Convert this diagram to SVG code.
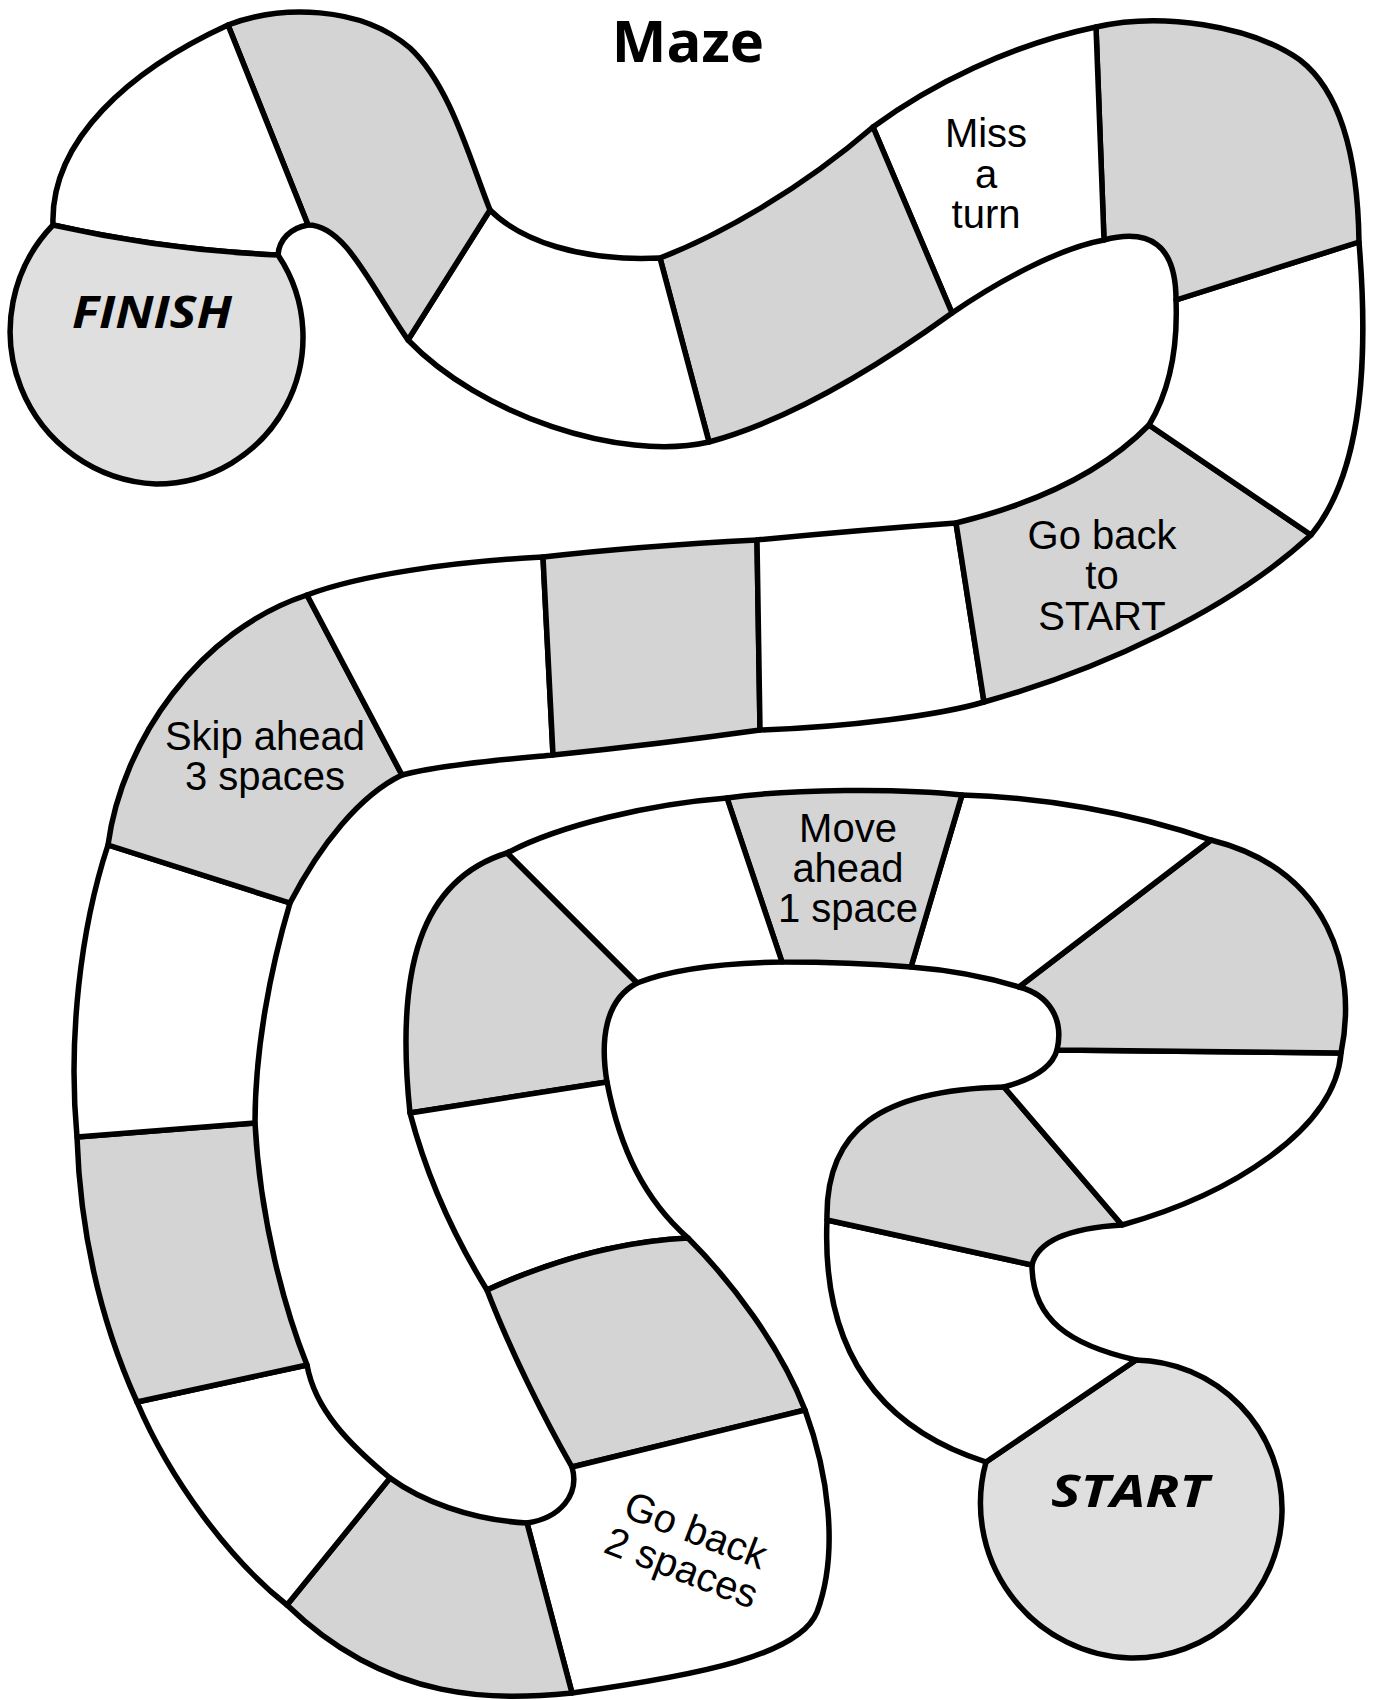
<svg xmlns="http://www.w3.org/2000/svg" width="1379" height="1700" viewBox="0 0 1379 1700">
<style>
.c{stroke:#000;stroke-width:5.5;stroke-linejoin:round;fill:#fff}
.g{fill:#d4d4d4}
.o{fill:#dfdfdf}
.lbl{font-family:"Liberation Sans",Arial,sans-serif;font-size:40px;text-anchor:middle;fill:#000}
.big{font-family:"Open Sans","DejaVu Sans",sans-serif;font-size:45px;font-weight:700;font-style:italic;text-anchor:middle;fill:#000}
.title{font-family:"Open Sans","Liberation Sans",sans-serif;font-size:58px;font-weight:700;text-anchor:middle;fill:#000}
</style>
<rect width="1379" height="1700" fill="#fff"/>
<text x="688" y="62" class="title">Maze</text>
<g id="board">
<g id="start"><path class="c o" d="M1136,1360 A148,148 0 0 1 1130,1658 A155,155 0 0 1 986,1462 Z"/><text x="1130" y="1507" class="big" textLength="158" lengthAdjust="spacingAndGlyphs">START</text></g>
<g id="cell1"><path class="c" d="M827,1220 L1032,1265 C1032,1320 1070,1345 1136,1360 L986,1462 C870,1425 822,1340 827,1220 Z"/></g>
<g id="cell2"><path class="c g" d="M827,1220 C825,1130 880,1090 1004,1087 L1122,1225 C1070,1228 1038,1240 1032,1265 Z"/></g>
<g id="cell3"><path class="c" d="M1004,1087 L1122,1225 C1230,1195 1335,1130 1341,1053 L1057,1050 C1052,1068 1030,1080 1004,1087 Z"/></g>
<g id="cell4"><path class="c g" d="M1057,1050 L1341,1053 C1358,970 1330,870 1211,840 L1019,987 C1050,995 1064,1020 1057,1050 Z"/></g>
<g id="cell5"><path class="c" d="M1019,987 L1211,840 C1130,812 1040,797 962,795 L911,967 C950,970 990,978 1019,987 Z"/></g>
<g id="cell6"><path class="c g" d="M911,967 L962,795 C900,788 790,789 727,798 L782,962 Q850,962 911,967 Z"/>
<text class="lbl" x="848" y="842">Move</text><text class="lbl" x="848" y="882">ahead</text><text class="lbl" x="848" y="922">1 space</text></g>
<g id="cell7"><path class="c" d="M782,962 L727,798 C650,804 560,825 507,853 L637,983 C670,970 720,963 782,962 Z"/></g>
<g id="cell8"><path class="c g" d="M637,983 L507,853 C420,880 395,970 410,1113 L607,1082 C600,1040 605,1000 637,983 Z"/></g>
<g id="cell9"><path class="c" d="M410,1113 L607,1082 C620,1150 645,1200 688,1238 Q590,1243 487,1290 C450,1230 425,1170 410,1113 Z"/></g>
<g id="cell10"><path class="c g" d="M487,1290 Q590,1243 688,1238 C730,1280 780,1345 805,1410 L572,1467 C545,1420 510,1350 487,1290 Z"/></g>
<g id="cell11"><path class="c" d="M572,1467 L805,1410 C827,1470 840,1550 817,1612 C800,1655 700,1675 572,1693 L527,1523 C560,1518 580,1495 572,1467 Z"/>
<g transform="translate(691,1543) rotate(21)"><text class="lbl" x="0" y="0">Go back</text><text class="lbl" x="0" y="40">2 spaces</text></g></g>
<g id="cell12"><path class="c g" d="M527,1523 L572,1693 C500,1700 390,1705 287,1605 L390,1478 C420,1500 470,1520 527,1523 Z"/></g>
<g id="cell13"><path class="c" d="M390,1478 L287,1605 C230,1560 170,1480 137,1402 L307,1365 C315,1410 350,1445 390,1478 Z"/></g>
<g id="cell14"><path class="c g" d="M307,1365 L137,1402 C100,1320 80,1230 77,1137 L255,1123 C260,1220 285,1310 307,1365 Z"/></g>
<g id="cell15"><path class="c" d="M255,1123 L77,1137 C68,1040 80,930 108,845 L290,903 C270,970 255,1050 255,1123 Z"/></g>
<g id="cell16"><path class="c g" d="M290,903 L108,845 C122,740 200,630 307,595 L402,775 C360,795 320,845 290,903 Z"/>
<text class="lbl" x="265" y="750">Skip ahead</text><text class="lbl" x="265" y="790">3 spaces</text></g>
<g id="cell17"><path class="c" d="M402,775 L307,595 C360,575 450,562 543,557 L553,755 C500,760 440,765 402,775 Z"/></g>
<g id="cell18"><path class="c g" d="M553,755 L543,557 Q640,546 757,540 L760,730 Q660,744 553,755 Z"/></g>
<g id="cell19"><path class="c" d="M757,540 Q860,530 956,523 L984,702 C940,715 850,727 760,730 Z"/></g>
<g id="cell20"><path class="c g" d="M956,523 C1030,505 1100,475 1149,425 L1311,535 C1230,610 1100,670 984,702 Z"/>
<text class="lbl" x="1102" y="549">Go back</text><text class="lbl" x="1102" y="589">to</text><text class="lbl" x="1102" y="630">START</text></g>
<g id="cell21"><path class="c" d="M1149,425 C1170,390 1178,350 1176,300 L1359,242 C1368,350 1365,470 1311,535 Z"/></g>
<g id="cell22"><path class="c g" d="M1104,240 L1096,27 C1160,12 1250,25 1300,60 C1345,95 1358,170 1359,242 L1176,300 C1176,245 1150,228 1104,240 Z"/></g>
<g id="cell23"><path class="c" d="M1096,27 L1104,240 C1060,248 1000,280 952,313 L873,127 C930,85 1010,45 1096,27 Z"/>
<text class="lbl" x="986" y="147">Miss</text><text class="lbl" x="986" y="188">a</text><text class="lbl" x="986" y="228">turn</text></g>
<g id="cell24"><path class="c g" d="M873,127 L952,313 C880,365 790,420 709,442 L660,258 C720,235 800,190 873,127 Z"/></g>
<g id="cell25"><path class="c" d="M660,258 L709,442 C620,462 480,415 408,340 L490,210 C520,240 580,262 660,258 Z"/></g>
<g id="cell26"><path class="c g" d="M490,210 L408,340 C370,285 345,225 308,225 L228,25 C280,5 360,5 410,48 C450,85 470,160 490,210 Z"/></g>
<g id="cell27"><path class="c" d="M228,25 L308,225 C290,228 279,240 278,255 Q165,250 53,225 C50,140 130,70 228,25 Z"/></g>
<g id="finish"><path class="c o" d="M278,255 A147,147 0 0 1 156,484 A153,153 0 0 1 53,225 Q165,250 278,255 Z"/><text x="152" y="328" class="big" textLength="160" lengthAdjust="spacingAndGlyphs">FINISH</text></g>
</g>
<g id="connectors"/>
</svg>
